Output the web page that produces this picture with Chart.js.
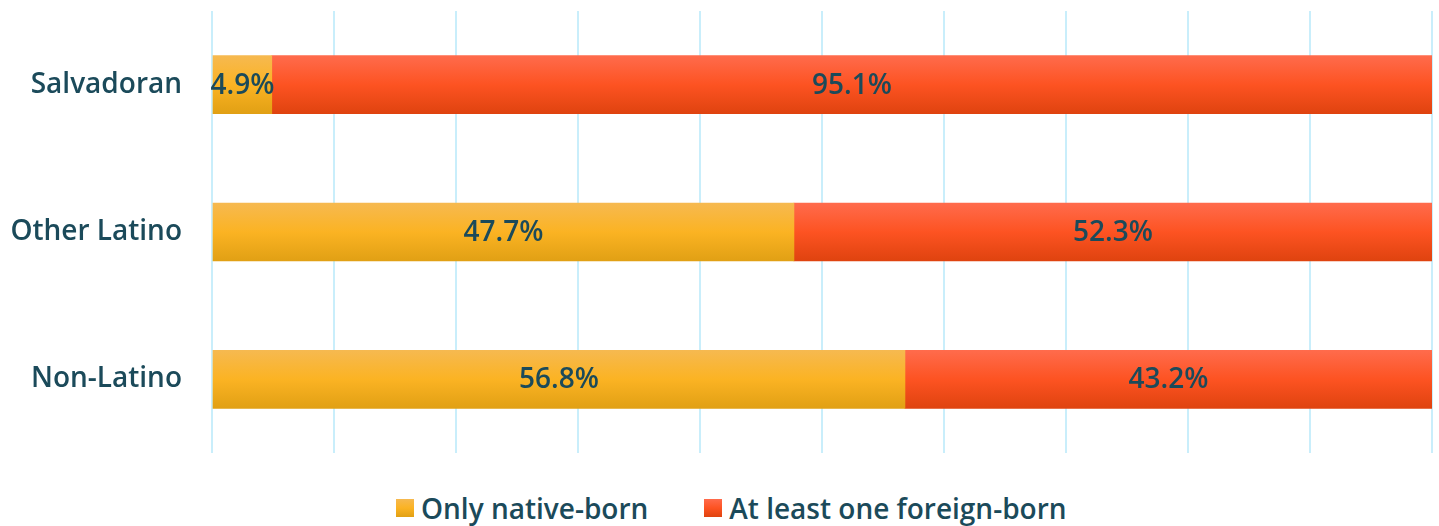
<!DOCTYPE html>
<html>
<head>
  <script src="https://cdn.jsdelivr.net/npm/chart.js@4.4.0/dist/chart.umd.min.js"></script>
  <title>Native-born vs foreign-born parents</title>
  <style>
    body { margin: 0; background: #ffffff; overflow: hidden; }
    #wrap { position: relative; width: 1439px; height: 526px; }
    #parentsChart { position: absolute; left: 0; top: 0; }
    #legend {
      position: absolute; left: 396px; top: 490px;
      display: flex; align-items: center;
      font-family: 'Open Sans', sans-serif; font-size: 28px; font-weight: 600;
      color: #1b4a5a; line-height: 36px;
    }
    .item { display: flex; align-items: center; margin-right: 56px; }
    .box { width: 18px; height: 18px; margin-right: 7px; }
  </style>
</head>
<body>
  <div id="wrap">
    <canvas id="parentsChart" width="1439" height="480"></canvas>
    <div id="legend"></div>
  </div>

  <script>
    // categories and the two stacked series (percent)
    const groups = ["Salvadoran", "Other Latino", "Non-Latino"];
    const nativeBorn = [4.9, 47.7, 56.8];
    const foreignBorn = [95.1, 52.3, 43.2];
    const seriesNames = ["Only native-born", "At least one foreign-born"];

    const textColor = "#1b4a5a";
    const fontSpec = { family: "'Open Sans'", size: 28, weight: 600 };
    const BAR = 58;

    const orangeStops = ["#f6b950", "#fbb323", "#e1a014"];
    const redStops = ["#ff6b4c", "#fd5322", "#df430f"];

    // vertical gradient for each bar, top light -> bottom dark
    function barGradient(stops, solid) {
      return function (context) {
        const chart = context.chart;
        const yScale = chart.scales.y;
        if (context.dataIndex === undefined || !yScale) return solid;
        const yc = yScale.getPixelForValue(context.dataIndex);
        if (!isFinite(yc)) return solid;
        const g = chart.ctx.createLinearGradient(0, yc - BAR / 2, 0, yc + BAR / 2);
        g.addColorStop(0, stops[0]);
        g.addColorStop(0.5, stops[1]);
        g.addColorStop(1, stops[2]);
        return g;
      };
    }

    // in-bar labels, centered on each segment
    const valueLabels = {
      id: "valueLabels",
      afterDatasetsDraw(chart) {
        const ctx = chart.ctx;
        ctx.save();
        ctx.font = "600 28px 'Open Sans'";
        ctx.fillStyle = textColor;
        ctx.textAlign = "center";
        ctx.textBaseline = "middle";
        chart.data.datasets.forEach((ds, i) => {
          chart.getDatasetMeta(i).data.forEach((bar, j) => {
            const mid = (bar.x + bar.base) / 2;
            ctx.fillText(ds.data[j].toFixed(1) + "%", mid, bar.y + 1);
          });
        });
        ctx.restore();
      }
    };

    const ctx = document.getElementById("parentsChart").getContext("2d");
    const chart = new Chart(ctx, {
      type: "bar",
      data: {
        labels: groups,
        datasets: [
          {
            label: seriesNames[0],
            data: nativeBorn,
            backgroundColor: barGradient(orangeStops, "#f4b026"),
            barThickness: BAR
          },
          {
            label: seriesNames[1],
            data: foreignBorn,
            backgroundColor: barGradient(redStops, "#f5501e"),
            barThickness: BAR
          }
        ]
      },
      options: {
        indexAxis: "y",
        responsive: false,
        animation: false,
        layout: { padding: { top: 11, right: 7, left: 0, bottom: 27 } },
        scales: {
          x: {
            stacked: true,
            min: 0,
            max: 100,
            ticks: { display: false, stepSize: 10 },
            border: { display: false },
            grid: { color: "#c9eefb", lineWidth: 2, drawTicks: false },
            afterFit: (s) => { s.height = 0; s.paddingLeft = 0; s.paddingRight = 0; }
          },
          y: {
            stacked: true,
            grid: { display: false },
            border: { display: false },
            ticks: { color: textColor, padding: 22, font: fontSpec },
            afterFit: (s) => { s.width = 212; s.paddingTop = 0; s.paddingBottom = 0; }
          }
        },
        plugins: {
          tooltip: { enabled: false },
          legend: { display: false }
        }
      },
      plugins: [valueLabels]
    });

    // legend below the chart, built from the datasets
    const legendEl = document.getElementById("legend");
    [orangeStops, redStops].forEach((stops, i) => {
      const item = document.createElement("div");
      item.className = "item";
      const box = document.createElement("span");
      box.className = "box";
      box.style.background = "linear-gradient(" + stops.join(",") + ")";
      const label = document.createElement("span");
      label.textContent = chart.data.datasets[i].label;
      item.appendChild(box);
      item.appendChild(label);
      legendEl.appendChild(item);
    });
  </script>
</body>
</html>
